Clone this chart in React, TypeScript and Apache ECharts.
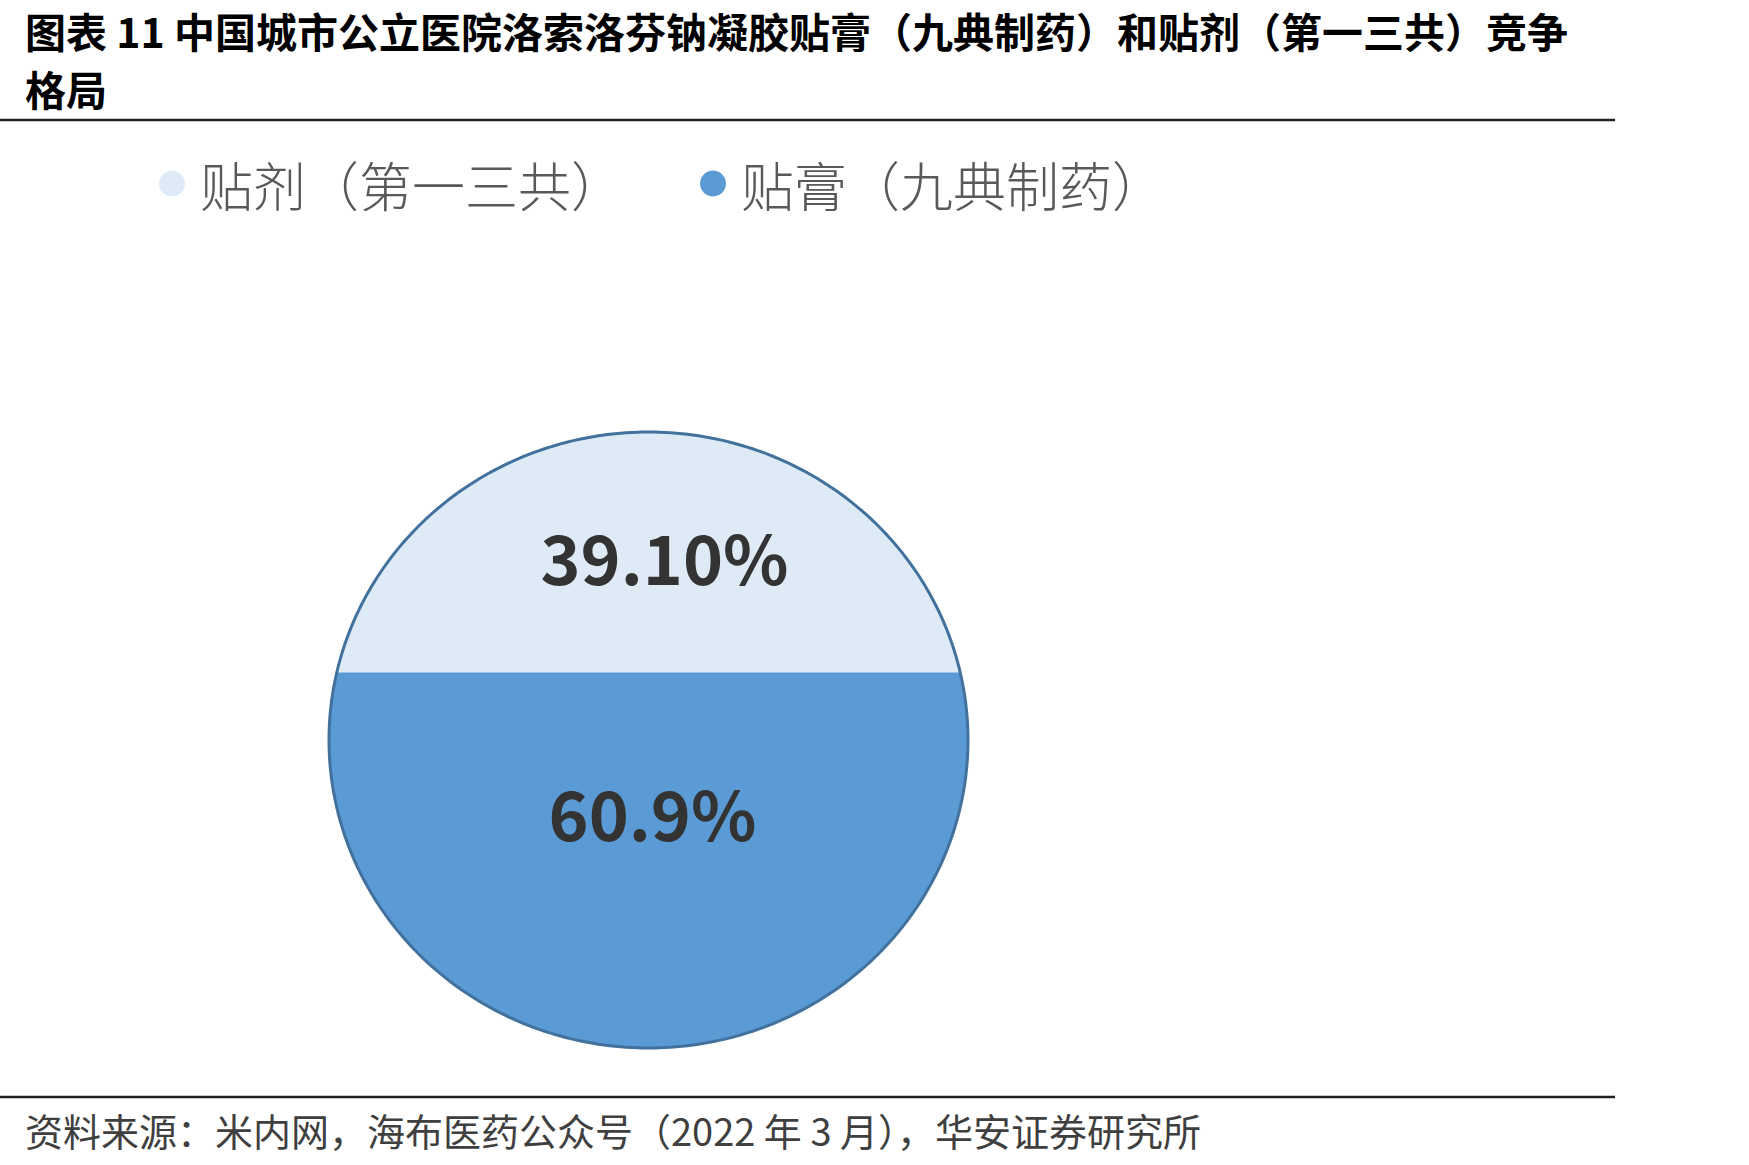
import React, { useEffect, useRef } from "react";
import * as echarts from "echarts";

const categories = ["贴剂（第一三共）", "贴膏（九典制药）"];
const shares = [39.1, 60.9];
const shareLabels = ["39.10%", "60.9%"];
const colors = ["#DEEBF7", "#5B9BD5"];
const titleLines = [
  "图表 11 中国城市公立医院洛索洛芬钠凝胶贴膏（九典制药）和贴剂（第一三共）竞争",
  "格局",
];
const sourceText = "资料来源：米内网，海布医药公众号（2022 年 3 月），华安证券研究所";

const CJK = '"Noto Sans CJK SC", "Noto Sans", sans-serif';

function ellipseGeom(cs: any) {
  return {
    cx: cs.x + cs.width / 2,
    cy: cs.y + cs.height / 2,
    rx: cs.width / 2,
    ry: cs.height / 2,
  };
}

export default function App() {
  const ref = useRef<HTMLDivElement>(null);
  useEffect(() => {
    document.body.style.margin = "0";
    const chart = echarts.init(ref.current!, null, { renderer: "svg" });

    // stack from bottom: last category at bottom
    const ranges: number[][] = [];
    let acc = 0;
    for (let i = shares.length - 1; i >= 0; i--) {
      ranges[i] = [acc, acc + shares[i]];
      acc += shares[i];
    }
    const labelOffsets = [
      [16, 3],
      [4, -49],
    ];

    const segSeries = categories.map((name, i) => ({
      type: "custom",
      name,
      coordinateSystem: "cartesian2d",
      itemStyle: { color: colors[i] },
      data: [[ranges[i][0], ranges[i][1]]],
      encode: { y: [0, 1] },
      z: 2,
      renderItem: (params: any, api: any) => {
        const start = api.value(0);
        const end = api.value(1);
        const g = ellipseGeom(params.coordSys);
        const yB = api.coord([0, start])[1];
        const yT = api.coord([0, end])[1];
        const right: number[][] = [];
        const steps = 200;
        for (let k = 0; k <= steps; k++) {
          const y = yT + ((yB - yT) * k) / steps;
          const t = (y - g.cy) / g.ry;
          const dx = g.rx * Math.sqrt(Math.max(0, 1 - t * t));
          right.push([g.cx + dx, y]);
        }
        const left = right.map((p) => [2 * g.cx - p[0], p[1]]).reverse();
        const pts = right.concat(left);
        return {
          type: "group",
          children: [
            {
              type: "polygon",
              shape: { points: pts },
              style: { fill: colors[i], stroke: colors[i], lineWidth: 0.5 },
            },
            {
              type: "text",
              x: g.cx + labelOffsets[i][0],
              y: (yT + yB) / 2 + labelOffsets[i][1],
              style: {
                text: shareLabels[i],
                fill: "#333333",
                font: `bold 68px ${CJK}`,
                align: "center",
                verticalAlign: "middle",
              },
              z2: 10,
            },
          ],
        };
      },
    }));

    const outlineSeries = {
      type: "custom",
      name: "outline",
      coordinateSystem: "cartesian2d",
      data: [[0, 100]],
      silent: true,
      z: 5,
      renderItem: (params: any, api: any) => {
        const g = ellipseGeom(params.coordSys);
        const pts: number[][] = [];
        const n = 360;
        for (let k = 0; k <= n; k++) {
          const a = (2 * Math.PI * k) / n;
          pts.push([g.cx + g.rx * Math.cos(a), g.cy + g.ry * Math.sin(a)]);
        }
        return {
          type: "polyline",
          shape: { points: pts },
          style: { stroke: "#41719C", lineWidth: 3, fill: null },
        };
      },
    };

    chart.setOption({
      animation: false,
      backgroundColor: "#ffffff",
      grid: { left: 329, top: 432, width: 639, height: 616 },
      xAxis: { type: "value", min: 0, max: 1, show: false },
      yAxis: { type: "value", min: 0, max: 100, show: false },
      legend: {
        data: categories,
        left: 154,
        top: 152,
        itemWidth: 26,
        itemHeight: 26,
        itemGap: 76,
        icon: "circle",
        textStyle: {
          fontSize: 53,
          color: "#595959",
          fontFamily: CJK,
          fontWeight: 300,
          padding: [0, 0, 0, 10],
        },
      },
      graphic: [
        {
          type: "text",
          left: 25,
          top: 9,
          style: {
            text: titleLines[0],
            font: `bold 41px ${CJK}`,
            fill: "#000000",
          },
        },
        {
          type: "text",
          left: 25,
          top: 67,
          style: {
            text: titleLines[1],
            font: `bold 41px ${CJK}`,
            fill: "#000000",
          },
        },
        {
          type: "line",
          shape: { x1: 0, y1: 120, x2: 1615, y2: 120 },
          style: { stroke: "#222222", lineWidth: 2.5 },
        },
        {
          type: "line",
          shape: { x1: 0, y1: 1097, x2: 1615, y2: 1097 },
          style: { stroke: "#222222", lineWidth: 2.5 },
        },
        {
          type: "text",
          left: 25,
          top: 1110,
          style: {
            text: sourceText,
            font: `38px ${CJK}`,
            fill: "#3f3f3f",
          },
        },
      ],
      series: [...segSeries, outlineSeries],
    });
    return () => chart.dispose();
  }, []);
  return <div ref={ref} style={{ width: 1749, height: 1165 }} />;
}
